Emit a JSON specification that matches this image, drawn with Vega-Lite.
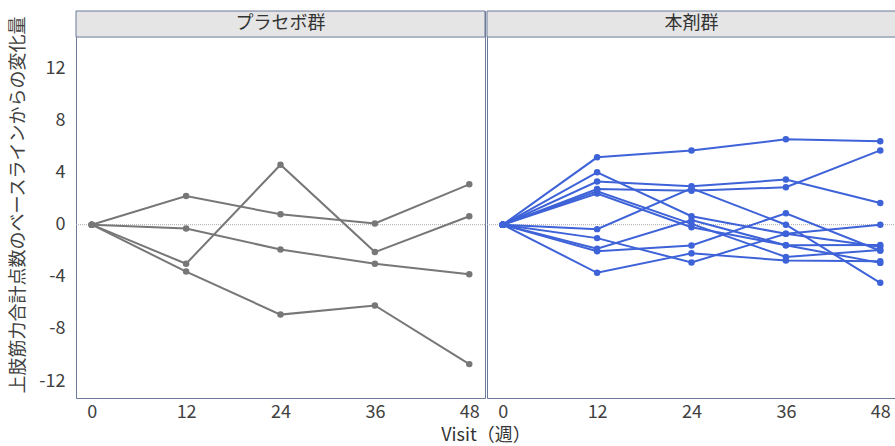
{
  "$schema": "https://vega.github.io/schema/vega-lite/v6.json",
  "padding": {"left": 9, "top": 10, "right": 0, "bottom": 0},
  "background": "white",
  "data": {"values": [
    {"group": "プラセボ群", "id": "P1", "visit": 0, "value": 0},
    {"group": "プラセボ群", "id": "P1", "visit": 12, "value": 2.2},
    {"group": "プラセボ群", "id": "P1", "visit": 24, "value": 0.8},
    {"group": "プラセボ群", "id": "P1", "visit": 36, "value": 0.1},
    {"group": "プラセボ群", "id": "P1", "visit": 48, "value": 3.1},
    {"group": "プラセボ群", "id": "P2", "visit": 0, "value": 0},
    {"group": "プラセボ群", "id": "P2", "visit": 12, "value": -3.0},
    {"group": "プラセボ群", "id": "P2", "visit": 24, "value": 4.6},
    {"group": "プラセボ群", "id": "P2", "visit": 36, "value": -2.1},
    {"group": "プラセボ群", "id": "P2", "visit": 48, "value": 0.65},
    {"group": "プラセボ群", "id": "P3", "visit": 0, "value": 0},
    {"group": "プラセボ群", "id": "P3", "visit": 12, "value": -0.3},
    {"group": "プラセボ群", "id": "P3", "visit": 24, "value": -1.9},
    {"group": "プラセボ群", "id": "P3", "visit": 36, "value": -3.0},
    {"group": "プラセボ群", "id": "P3", "visit": 48, "value": -3.8},
    {"group": "プラセボ群", "id": "P4", "visit": 0, "value": 0},
    {"group": "プラセボ群", "id": "P4", "visit": 12, "value": -3.6},
    {"group": "プラセボ群", "id": "P4", "visit": 24, "value": -6.9},
    {"group": "プラセボ群", "id": "P4", "visit": 36, "value": -6.2},
    {"group": "プラセボ群", "id": "P4", "visit": 48, "value": -10.7},
    {"group": "本剤群", "id": "D1", "visit": 0, "value": 0},
    {"group": "本剤群", "id": "D1", "visit": 12, "value": 5.17},
    {"group": "本剤群", "id": "D1", "visit": 24, "value": 5.7},
    {"group": "本剤群", "id": "D1", "visit": 36, "value": 6.55},
    {"group": "本剤群", "id": "D1", "visit": 48, "value": 6.4},
    {"group": "本剤群", "id": "D2", "visit": 0, "value": 0},
    {"group": "本剤群", "id": "D2", "visit": 12, "value": 4.02},
    {"group": "本剤群", "id": "D2", "visit": 24, "value": 0.65},
    {"group": "本剤群", "id": "D2", "visit": 36, "value": -0.7},
    {"group": "本剤群", "id": "D2", "visit": 48, "value": -1.7},
    {"group": "本剤群", "id": "D3", "visit": 0, "value": 0},
    {"group": "本剤群", "id": "D3", "visit": 12, "value": 3.31},
    {"group": "本剤群", "id": "D3", "visit": 24, "value": 2.95},
    {"group": "本剤群", "id": "D3", "visit": 36, "value": 3.46},
    {"group": "本剤群", "id": "D3", "visit": 48, "value": 1.67},
    {"group": "本剤群", "id": "D4", "visit": 0, "value": 0},
    {"group": "本剤群", "id": "D4", "visit": 12, "value": 2.74},
    {"group": "本剤群", "id": "D4", "visit": 24, "value": 2.6},
    {"group": "本剤群", "id": "D4", "visit": 36, "value": 2.87},
    {"group": "本剤群", "id": "D4", "visit": 48, "value": 5.7},
    {"group": "本剤群", "id": "D5", "visit": 0, "value": 0},
    {"group": "本剤群", "id": "D5", "visit": 12, "value": -0.34},
    {"group": "本剤群", "id": "D5", "visit": 24, "value": 2.8},
    {"group": "本剤群", "id": "D5", "visit": 36, "value": 0.0},
    {"group": "本剤群", "id": "D5", "visit": 48, "value": -4.46},
    {"group": "本剤群", "id": "D6", "visit": 0, "value": 0},
    {"group": "本剤群", "id": "D6", "visit": 12, "value": 2.57},
    {"group": "本剤群", "id": "D6", "visit": 24, "value": 0.06},
    {"group": "本剤群", "id": "D6", "visit": 36, "value": -2.47},
    {"group": "本剤群", "id": "D6", "visit": 48, "value": -1.95},
    {"group": "本剤群", "id": "D7", "visit": 0, "value": 0},
    {"group": "本剤群", "id": "D7", "visit": 12, "value": 2.39},
    {"group": "本剤群", "id": "D7", "visit": 24, "value": -0.2},
    {"group": "本剤群", "id": "D7", "visit": 36, "value": -1.57},
    {"group": "本剤群", "id": "D7", "visit": 48, "value": -1.55},
    {"group": "本剤群", "id": "D8", "visit": 0, "value": 0},
    {"group": "本剤群", "id": "D8", "visit": 12, "value": -1.03},
    {"group": "本剤群", "id": "D8", "visit": 24, "value": -2.9},
    {"group": "本剤群", "id": "D8", "visit": 36, "value": -0.7},
    {"group": "本剤群", "id": "D8", "visit": 48, "value": 0.0},
    {"group": "本剤群", "id": "D9", "visit": 0, "value": 0},
    {"group": "本剤群", "id": "D9", "visit": 12, "value": -1.85},
    {"group": "本剤群", "id": "D9", "visit": 24, "value": 0.35},
    {"group": "本剤群", "id": "D9", "visit": 36, "value": -1.57},
    {"group": "本剤群", "id": "D9", "visit": 48, "value": -2.93},
    {"group": "本剤群", "id": "D10", "visit": 0, "value": 0},
    {"group": "本剤群", "id": "D10", "visit": 12, "value": -2.03},
    {"group": "本剤群", "id": "D10", "visit": 24, "value": -1.6},
    {"group": "本剤群", "id": "D10", "visit": 36, "value": 0.88},
    {"group": "本剤群", "id": "D10", "visit": 48, "value": -2.0},
    {"group": "本剤群", "id": "D11", "visit": 0, "value": 0},
    {"group": "本剤群", "id": "D11", "visit": 12, "value": -3.69},
    {"group": "本剤群", "id": "D11", "visit": 24, "value": -2.2},
    {"group": "本剤群", "id": "D11", "visit": 36, "value": -2.75},
    {"group": "本剤群", "id": "D11", "visit": 48, "value": -2.8}
  ]},
  "facet": {
    "column": {
      "field": "group", "type": "nominal",
      "sort": ["プラセボ群", "本剤群"],
      "title": "Visit（週）",
      "header": {
        "labels": false,
        "titleOrient": "bottom",
        "titleFontSize": 18,
        "titleFont": "Noto Sans CJK JP",
        "titleFontWeight": "normal",
        "titleColor": "#333333",
        "titleBaseline": "bottom",
        "titlePadding": 14
      }
    }
  },
  "spacing": 0,
  "spec": {
    "width": 409,
    "height": 387,
    "layer": [
      {
        "transform": [{"aggregate": [], "groupby": ["group"]}],
        "mark": {"type": "rect", "fill": "#e5e5e5", "stroke": "#6b7a99", "strokeWidth": 1},
        "encoding": {
          "x": {"datum": -2, "type": "quantitative", "axis": {"title": null}},
          "x2": {"datum": 50},
          "y": {"datum": 14.4, "type": "quantitative", "axis": {"title": "上肢筋力合計点数のベースラインからの変化量"}},
          "y2": {"datum": 16.4}
        }
      },
      {
        "transform": [{"aggregate": [], "groupby": ["group"]}],
        "mark": {"type": "text", "fontSize": 18, "font": "Noto Sans CJK JP", "color": "#333333", "baseline": "middle", "align": "center"},
        "encoding": {
          "x": {"datum": 24, "type": "quantitative", "axis": {"title": null}},
          "y": {"datum": 15.4, "type": "quantitative", "axis": {"title": "上肢筋力合計点数のベースラインからの変化量"}},
          "text": {"field": "group", "type": "nominal"}
        }
      },
      {
        "transform": [{"aggregate": [], "groupby": ["group"]}],
        "mark": {"type": "rule", "color": "#a8a8a8", "strokeWidth": 1, "strokeDash": [1, 1]},
        "encoding": {
          "y": {"datum": 0, "type": "quantitative", "axis": {"title": "上肢筋力合計点数のベースラインからの変化量"}}
        }
      },
      {
        "mark": {"type": "line", "strokeWidth": 2},
        "encoding": {
          "x": {"field": "visit", "type": "quantitative", "scale": {"domain": [-2, 50], "nice": false, "zero": false}, "axis": {"title": null, "values": [0, 12, 24, 36, 48]}},
          "y": {"field": "value", "type": "quantitative", "scale": {"domain": [-13.3, 16.4], "nice": false, "zero": false}, "axis": {"title": "上肢筋力合計点数のベースラインからの変化量", "values": [-12, -8, -4, 0, 4, 8, 12], "labelExpr": "datum.value < 0 ? '-' + abs(datum.value) : '' + datum.value"}},
          "detail": {"field": "id", "type": "nominal"},
          "color": {"field": "group", "type": "nominal", "scale": {"domain": ["プラセボ群", "本剤群"], "range": ["#777777", "#3e62d8"]}, "legend": null}
        }
      },
      {
        "mark": {"type": "point", "filled": true, "size": 42, "opacity": 1},
        "encoding": {
          "x": {"field": "visit", "type": "quantitative", "axis": {"title": null}},
          "y": {"field": "value", "type": "quantitative", "axis": {"title": "上肢筋力合計点数のベースラインからの変化量"}},
          "color": {"field": "group", "type": "nominal", "legend": null}
        }
      }
    ]
  },
  "config": {
    "font": "Noto Sans CJK JP",
    "view": {"stroke": "#6b7a99", "strokeWidth": 1},
    "axis": {
      "grid": false,
      "domain": false,
      "ticks": false,
      "labelFont": "Noto Sans CJK JP",
      "labelFontSize": 18,
      "labelColor": "#404040",
      "titleFont": "Noto Sans CJK JP",
      "titleFontSize": 18,
      "titleFontWeight": "normal",
      "titleColor": "#404040"
    },
    "axisY": {"labelPadding": 10, "titlePadding": 11},
    "axisX": {"labelPadding": 4}
  }
}
